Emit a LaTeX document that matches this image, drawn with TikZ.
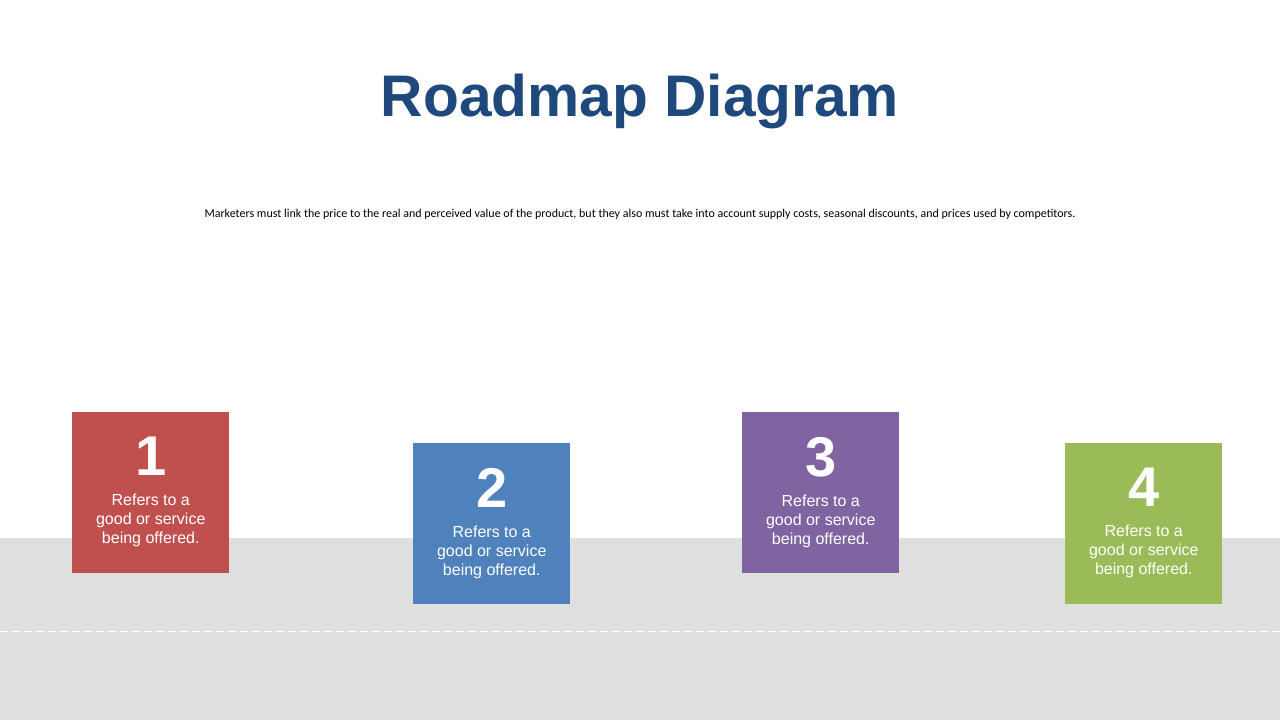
\documentclass[tikz,border=0pt]{standalone}
\usepackage{fontspec}
\setmainfont{Liberation Sans}
\newfontfamily\notefont{Carlito}
\usetikzlibrary{positioning}
\definecolor{titleblue}{HTML}{1F497D}
\definecolor{bandgray}{HTML}{DFDFDF}
\definecolor{stepred}{HTML}{C0504D}
\definecolor{stepblue}{HTML}{4F81BD}
\definecolor{steppurple}{HTML}{8064A2}
\definecolor{stepgreen}{HTML}{9BBB59}

\begin{document}
\begin{tikzpicture}[x=0.75pt,y=-0.75pt,
    stepbox/.style={anchor=north west,minimum width=117.75pt,minimum height=120.75pt,inner sep=0pt},
    stepnum/.style={text=white,inner sep=0pt,font=\fontsize{42}{42}\selectfont\bfseries},
    steptext/.style={text=white,inner sep=0pt,align=center,font=\fontsize{12}{14.25}\selectfont}]
    \useasboundingbox (0,0) rectangle (1280,720);
    \fill[bandgray] (0,538) rectangle (1280,720);
    \draw[white,line width=0.75pt,dash pattern=on 6pt off 3pt] (0,631) -- (1280,631);
    \node[anchor=base,text=titleblue,font=\fontsize{44}{44}\selectfont\bfseries] (title) at (640,117) {Roadmap Diagram};
    \node[anchor=base,font=\notefont\fontsize{9}{11}\selectfont] (note) at (640,218) {Marketers must link the price to the real and perceived value of the product, but they also must take into account supply costs, seasonal discounts, and prices used by competitors.};
    % steps
    \node[stepbox,fill=stepred] (box1) at (72,412) {};
    \node[stepnum,below=18.5pt of box1.north] (num1) {1};
    \node[steptext,below=13.5pt of num1] (txt1) {Refers to a\\good or service\\being offered.};
    \node[stepbox,fill=stepblue] (box2) at (413,443) {};
    \node[stepnum,below=18.5pt of box2.north] (num2) {2};
    \node[steptext,below=13.5pt of num2] (txt2) {Refers to a\\good or service\\being offered.};
    \node[stepbox,fill=steppurple] (box3) at (742,412) {};
    \node[stepnum,below=18.5pt of box3.north] (num3) {3};
    \node[steptext,below=13.5pt of num3] (txt3) {Refers to a\\good or service\\being offered.};
    \node[stepbox,fill=stepgreen] (box4) at (1065,443) {};
    \node[stepnum,below=18.5pt of box4.north] (num4) {4};
    \node[steptext,below=13.5pt of num4] (txt4) {Refers to a\\good or service\\being offered.};
\end{tikzpicture}
\end{document}
